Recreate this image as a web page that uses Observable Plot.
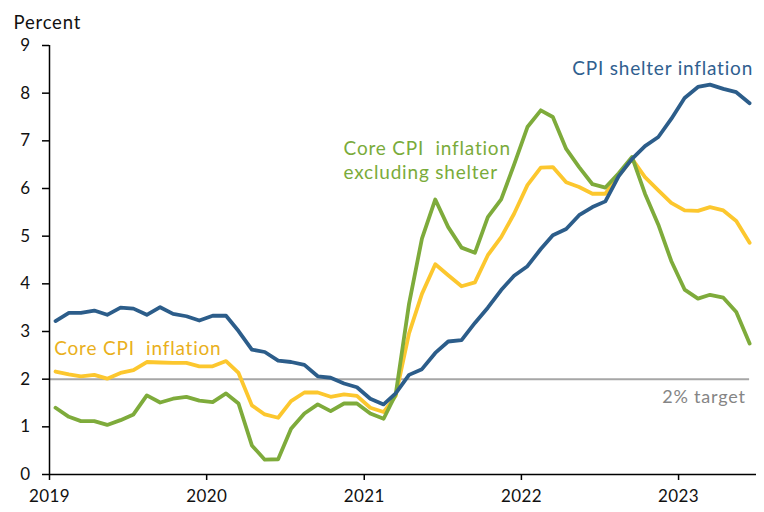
<!DOCTYPE html>
<html>
<head>
<meta charset="utf-8">
<script src="https://cdn.jsdelivr.net/npm/d3@7"></script>
<script src="https://cdn.jsdelivr.net/npm/@observablehq/plot@0.6"></script>
<style>
  html, body { margin: 0; padding: 0; background: #fff; }
</style>
</head>
<body>
<div id="chart"></div>
<script>
// Monthly observations, Jan 2019 – Jun 2023 (12-month % change)
const shelter = [
  3.22, 3.39, 3.39, 3.44, 3.35, 3.50, 3.48, 3.35, 3.51, 3.37, 3.32, 3.23,
  3.33, 3.33, 3.01, 2.62, 2.57, 2.39, 2.36, 2.30, 2.06, 2.03, 1.91, 1.83,
  1.59, 1.47, 1.70, 2.09, 2.21, 2.55, 2.79, 2.82, 3.18, 3.50, 3.87, 4.17,
  4.37, 4.73, 5.02, 5.15, 5.44, 5.61, 5.73, 6.26, 6.62, 6.89, 7.08, 7.46,
  7.90, 8.13, 8.18, 8.09, 8.02, 7.79
];
const coreCPI = [
  2.16, 2.10, 2.06, 2.09, 2.01, 2.13, 2.19, 2.36, 2.35, 2.34, 2.34, 2.27,
  2.27, 2.38, 2.13, 1.45, 1.26, 1.19, 1.54, 1.72, 1.72, 1.63, 1.68, 1.65,
  1.40, 1.31, 1.65, 2.96, 3.79, 4.41, 4.18, 3.95, 4.03, 4.60, 4.98, 5.47,
  6.07, 6.44, 6.45, 6.13, 6.03, 5.89, 5.89, 6.27, 6.62, 6.24, 5.96, 5.70,
  5.54, 5.53, 5.61, 5.54, 5.32, 4.86
];
const coreExShelter = [
  1.40, 1.21, 1.12, 1.12, 1.04, 1.14, 1.26, 1.66, 1.51, 1.59, 1.63, 1.55,
  1.52, 1.70, 1.49, 0.61, 0.31, 0.32, 0.96, 1.28, 1.47, 1.33, 1.49, 1.49,
  1.28, 1.17, 1.68, 3.58, 4.95, 5.77, 5.19, 4.76, 4.65, 5.40, 5.77, 6.50,
  7.29, 7.64, 7.50, 6.83, 6.45, 6.09, 6.02, 6.32, 6.66, 5.89, 5.24, 4.48,
  3.88, 3.69, 3.77, 3.71, 3.41, 2.75
];
const yTicks = [0, 1, 2, 3, 4, 5, 6, 7, 8, 9];
const xTickYears = [2019, 2020, 2021, 2022, 2023];
const targetValue = 2;
const labels = {
  unit: "Percent",
  shelter: "CPI shelter inflation",
  core: "Core CPI  inflation",
  exShelter: "Core CPI  inflation\nexcluding shelter",
  target: "2% target"
};

// months (mid-month observation dates)
const monthStarts = d3.utcMonth.range(new Date(Date.UTC(2019, 0, 1)), new Date(Date.UTC(2023, 6, 1)));
const dates = monthStarts.map(d => d3.utcDay.offset(d, 14));
const toRows = vals => vals.map((v, i) => ({date: dates[i], value: v}));

const start = new Date(Date.UTC(2019, 0, 1));
const end = new Date(Date.UTC(2023, 6, 1));
const D = (y, m, d) => new Date(Date.UTC(y, m - 1, d));

const BLUE = "#2c5d8a", YELLOW = "#fcc72e", GREEN = "#7eab3b";

const chart = Plot.plot({
  width: 764,
  height: 512,
  marginLeft: 49,
  marginRight: 8,
  marginTop: 45,
  marginBottom: 38,
  style: {fontFamily: "Lato, sans-serif", fontSize: "16px", color: "#000", background: "#fff"},
  x: {type: "utc", domain: [start, end]},
  y: {domain: [0, 9]},
  marks: [
    Plot.ruleY([targetValue], {x1: start, x2: dates[dates.length - 1], stroke: "#a6a6a6", strokeWidth: 2}),
    Plot.line(toRows(coreCPI), {x: "date", y: "value", stroke: YELLOW, strokeWidth: 3.8}),
    Plot.line(toRows(coreExShelter), {x: "date", y: "value", stroke: GREEN, strokeWidth: 3.8}),
    Plot.line(toRows(shelter), {x: "date", y: "value", stroke: BLUE, strokeWidth: 3.8}),
    Plot.ruleX([start], {y1: 0, y2: 9, stroke: "#000", strokeWidth: 1.5}),
    Plot.ruleY([0], {stroke: "#000", strokeWidth: 1.5}),
    Plot.axisY({ticks: yTicks, tickSize: 7, tickPadding: 12, tickFormat: d => String(d), label: null, strokeWidth: 1.5, fill: "#111", fontSize: 17}),
    Plot.axisX({ticks: xTickYears.map(y => new Date(Date.UTC(y, 0, 1))), tickSize: 6, tickPadding: 9, tickFormat: d3.utcFormat("%Y"), label: null, strokeWidth: 1.5, fill: "#111", fontSize: 17}),
    Plot.text([labels.unit], {frameAnchor: "top-left", dx: -36, dy: -30, lineAnchor: "top", textAnchor: "start", fontSize: 18.5, fill: "#111"}),
    Plot.text([labels.core], {x: D(2019, 1, 12), y: 2.79, lineAnchor: "top", textAnchor: "start", fontSize: 19, fill: "#e9b01c"}),
    Plot.text([labels.exShelter], {x: D(2020, 11, 14), y: 7.05, lineAnchor: "top", textAnchor: "start", fontSize: 19, lineHeight: 1.25, fill: "#7aab3a"}),
    Plot.text([labels.shelter], {x: D(2023, 6, 23), y: 8.66, lineAnchor: "top", textAnchor: "end", fontSize: 19, fill: "#30608f"}),
    Plot.text([labels.target], {x: D(2023, 6, 6), y: 1.776, lineAnchor: "top", textAnchor: "end", fontSize: 18, fill: "#858585"})
  ]
});
// wider tracking, like the reference's typeface
d3.select(chart).selectAll('g[aria-label="text"] text').style("letter-spacing", "0.8px").style("white-space", "pre");
d3.select(chart).selectAll('g[aria-label="y-axis tick label"] text, g[aria-label="x-axis tick label"] text').style("letter-spacing", "0.4px");
document.getElementById("chart").appendChild(chart);
</script>
</body>
</html>
